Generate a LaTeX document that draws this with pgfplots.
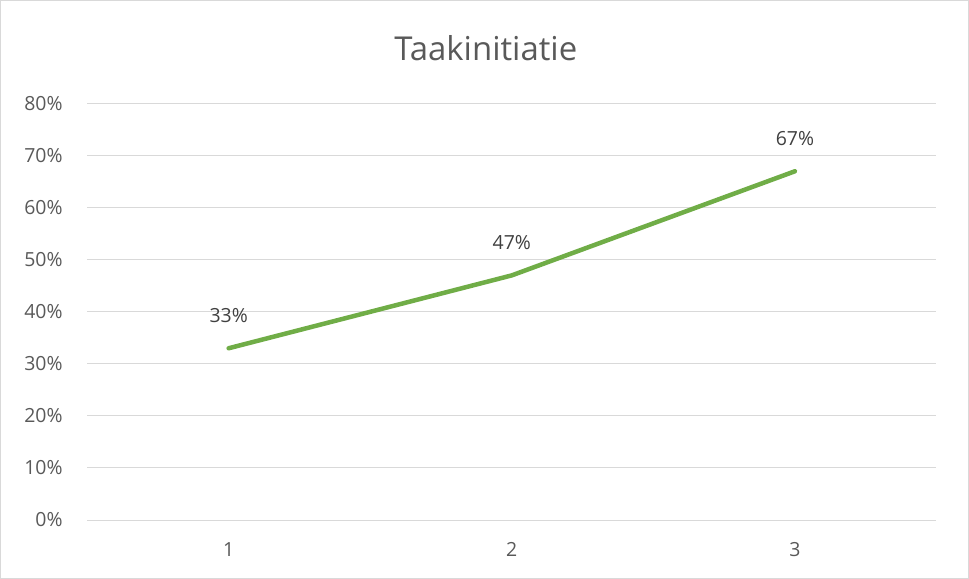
\documentclass[border=0pt]{standalone}
\usepackage{fontspec}
\setmainfont{Open Sans}
\usepackage{pgfplots}
\pgfplotsset{compat=1.18}
\definecolor{gridgray}{HTML}{D9D9D9}
\definecolor{txtgray}{HTML}{595959}
\definecolor{lblgray}{HTML}{404040}
\definecolor{linegreen}{HTML}{70AD47}
\begin{document}
\begin{tikzpicture}
\begin{axis}[
    at={(0,0)}, anchor=south west,
    scale only axis,
    width=848.5bp, height=416bp,
    xmin=0.5, xmax=3.5,
    ymin=0, ymax=80,
    xtick={1,2,3},
    ytick={0,10,...,80},
    yticklabel={\pgfmathprintnumber{\tick}\%},
    /pgf/number format/assume math mode=true,
    ymajorgrids,
    major grid style={gridgray, line width=1bp},
    axis line style={draw=none},
    x axis line style={draw=gridgray, line width=1bp},
    axis x line*=bottom,
    axis y line*=left,
    major tick length=0pt,
    ticklabel style={font=\fontsize{19.5}{23}\selectfont, text=txtgray},
    xticklabel style={yshift=-19bp},
    yticklabel style={xshift=-21bp},
    title={Taakinitiatie},
    title style={font=\fontsize{33}{39}\selectfont, text=txtgray, yshift=33bp, xshift=-26bp},
    clip=false,
]
\addplot[linegreen, line width=4.5bp, line join=round, line cap=round,
    nodes near coords={\pgfmathprintnumber{\pgfplotspointmeta}\%},
    point meta=y,
    every node near coord/.append style={font=\fontsize{19.5}{23}\selectfont, text=lblgray, anchor=south, yshift=20bp}]
coordinates {(1,33) (2,47) (3,67)};
\end{axis}
\draw[gridgray, line width=1bp] (-86.5bp,-58bp) rectangle (880.5bp,519bp);
\end{tikzpicture}
\end{document}
